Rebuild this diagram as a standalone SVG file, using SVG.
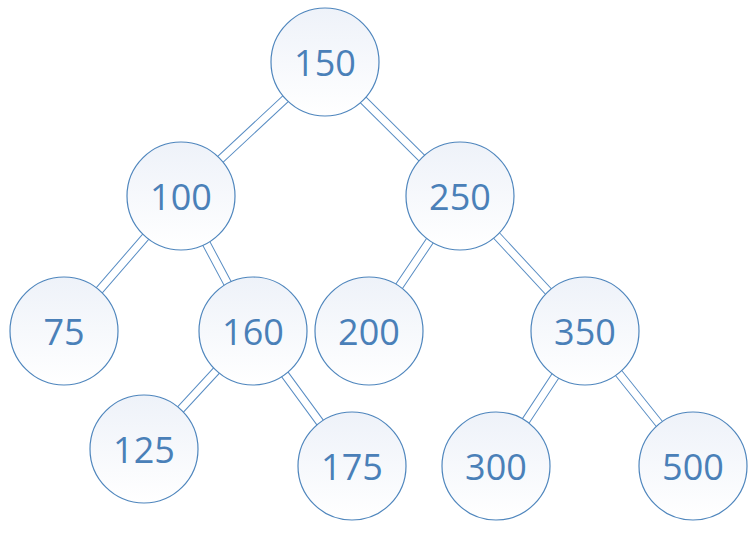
<svg xmlns="http://www.w3.org/2000/svg" width="748" height="541" viewBox="0 0 748 541">
<defs>
<linearGradient id="g" x1="0" y1="0" x2="0" y2="1"><stop offset="0" stop-color="#eef2f9"/><stop offset="1" stop-color="#ffffff"/></linearGradient>
<style>
.n circle{fill:url(#g);stroke:#4f86bd;stroke-width:1.2}
.n text{font-family:"Open Sans","Liberation Sans",sans-serif;font-size:36px;fill:#4a80b8;text-anchor:middle;dominant-baseline:central}
.o{stroke:#5a8ec4;stroke-width:9;fill:none}
.i{stroke:#fff;stroke-width:7;fill:none}
</style>
</defs>
<rect width="748" height="541" fill="#fff"/>
<g id="connectors">
<path class="o" d="M325 62L181 196M325 62L460 196M181 196L64 331M181 196L253 331M460 196L369 331M460 196L585 331M253 331L144 449M253 331L352 466M585 331L496 466M585 331L693 466"/>
<path class="i" d="M325 62L181 196M325 62L460 196M181 196L64 331M181 196L253 331M460 196L369 331M460 196L585 331M253 331L144 449M253 331L352 466M585 331L496 466M585 331L693 466"/>
</g>
<g id="n150" class="n"><circle cx="325" cy="62" r="54"/><text x="325" y="62">150</text></g>
<g id="n100" class="n"><circle cx="181" cy="196" r="54"/><text x="181" y="196">100</text></g>
<g id="n250" class="n"><circle cx="460" cy="196" r="54"/><text x="460" y="196">250</text></g>
<g id="n75" class="n"><circle cx="64" cy="331" r="54"/><text x="64" y="331">75</text></g>
<g id="n160" class="n"><circle cx="253" cy="331" r="54"/><text x="253" y="331">160</text></g>
<g id="n200" class="n"><circle cx="369" cy="331" r="54"/><text x="369" y="331">200</text></g>
<g id="n350" class="n"><circle cx="585" cy="331" r="54"/><text x="585" y="331">350</text></g>
<g id="n125" class="n"><circle cx="144" cy="449" r="54"/><text x="144" y="449">125</text></g>
<g id="n175" class="n"><circle cx="352" cy="466" r="54"/><text x="352" y="466">175</text></g>
<g id="n300" class="n"><circle cx="496" cy="466" r="54"/><text x="496" y="466">300</text></g>
<g id="n500" class="n"><circle cx="693" cy="466" r="54"/><text x="693" y="466">500</text></g>
</svg>
